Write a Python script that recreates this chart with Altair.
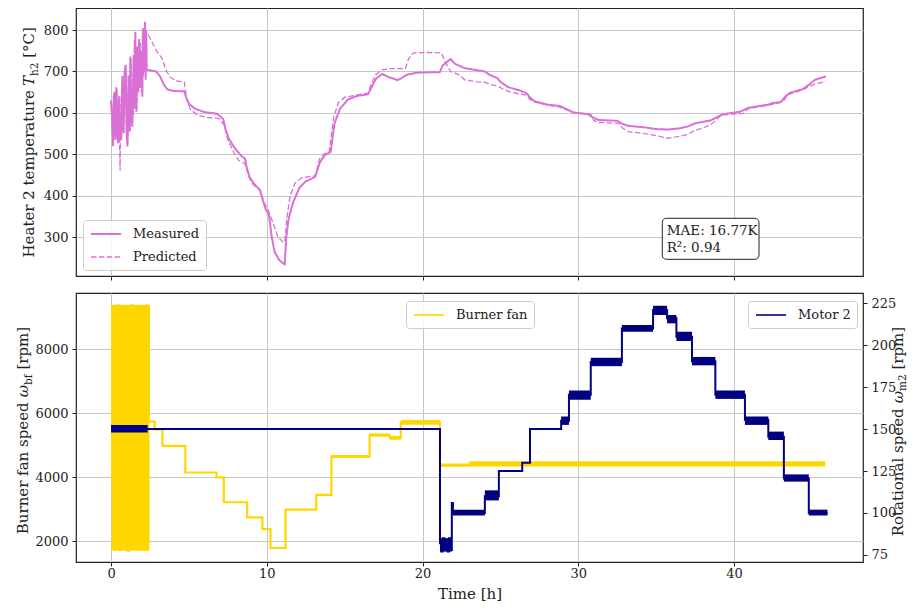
import altair as alt
import pandas as pd

# ---------------- data ----------------
# Heater 2 temperature, measured [°C]
meas_t = [0.0, 0.05, 0.1, 0.13, 0.18, 0.24, 0.28, 0.34, 0.4, 0.45, 0.52, 0.58, 0.66, 0.73, 0.78, 0.81,
          0.88, 0.94, 1.0, 1.05, 1.12, 1.2, 1.24, 1.3, 1.37, 1.45, 1.5, 1.56, 1.6, 1.63, 1.7, 1.75,
          1.8, 1.85, 1.9, 1.95, 2.01, 2.05, 2.1, 2.15, 2.18, 2.22, 2.26, 2.29,
          2.5, 2.9, 3.15, 3.4, 3.6, 4.0, 4.7, 4.8, 5.0, 5.4, 6.0, 6.8, 7.0, 7.2, 7.35, 7.6, 8.0, 8.4,
          8.6, 8.7, 8.9, 9.2, 9.55, 9.7, 9.9, 10.15, 10.3, 10.5, 10.8, 11.1, 11.15, 11.25, 11.4, 11.7,
          12.1, 12.5, 12.9, 13.1, 13.4, 13.7, 14.1, 14.35, 14.7, 15.2, 15.8, 16.5, 16.7, 17.0, 17.4,
          17.8, 18.4, 18.6, 19.0, 19.6, 20.5, 21.1, 21.3, 21.8, 22.1, 22.7, 23.5, 24.0, 24.3, 24.8,
          25.0, 25.5, 26.2, 26.7, 26.9, 27.2, 28.0, 28.8, 29.2, 29.7, 30.6, 31.0, 31.3, 32.5, 32.8,
          33.2, 34.3, 35.0, 35.8, 36.5, 37.0, 37.5, 38.5, 38.9, 39.3, 40.4, 40.9, 41.5, 42.2, 42.5,
          43.0, 43.3, 43.6, 44.4, 44.8, 45.2, 45.9]
meas_v = [630, 600, 560, 520, 640, 651, 535, 662, 560, 527, 640, 545, 535, 689, 580, 551,
          700, 716, 560, 519, 690, 555, 736, 600, 567, 740, 610, 796, 640, 603, 760, 650,
          778, 660, 700, 750, 639, 804, 700, 760, 820, 680, 800, 704,
          703, 700, 688, 668, 657, 653, 652, 640, 622, 610, 602, 598, 592, 585, 560, 535, 512, 495,
          490, 470, 445, 428, 415, 395, 370, 352, 305, 265, 245, 236, 235, 300, 345, 385,
          420, 435, 442, 446, 480, 497, 506, 575, 610, 632, 641, 645, 660, 682, 694,
          687, 679, 683, 692, 697, 698, 698, 715, 730, 718, 708, 703, 700, 692, 684,
          675, 662, 655, 647, 637, 628, 620, 617, 610, 601, 597, 588, 583, 581, 574,
          569, 565, 561, 560, 563, 567, 575, 582, 590, 597, 603, 612, 616, 620, 624,
          626, 640, 649, 657, 668, 680, 688]

# Heater 2 temperature, predicted [°C]
pred_t = [0.0, 0.05, 0.1, 0.15, 0.2, 0.26, 0.32, 0.38, 0.45, 0.52, 0.58, 0.63, 0.7, 0.78, 0.85, 0.92,
          1.0, 1.07, 1.15, 1.22, 1.28, 1.35, 1.42, 1.5, 1.57, 1.65, 1.72, 1.8, 1.87, 1.95, 2.02, 2.08,
          2.15, 2.2, 2.27,
          2.4, 2.7, 3.0, 3.3, 3.5, 3.8, 4.2, 4.7, 4.85, 5.1, 5.6, 6.2, 6.9, 7.1, 7.3, 7.45, 7.8, 8.2,
          8.6, 8.75, 9.0, 9.4, 9.6, 9.8, 10.1, 10.4, 10.7, 11.0, 11.15, 11.3, 11.5, 11.8, 12.2, 12.8,
          13.1, 13.4, 13.7, 14.0, 14.3, 14.6, 15.0, 15.6, 16.5, 16.7, 17.0, 17.4, 18.0, 18.9, 19.1,
          19.4, 20.5, 21.2, 21.5, 21.8, 22.3, 22.7, 23.5, 24.0, 24.4, 24.8, 25.2, 25.6, 26.2, 26.7,
          26.9, 27.2, 28.0, 28.8, 29.2, 29.7, 30.8, 31.0, 31.3, 32.6, 32.8, 33.2, 34.5, 35.0, 35.7,
          36.3, 37.0, 37.4, 38.5, 38.9, 39.2, 40.6, 40.9, 41.5, 42.8, 43.2, 43.5, 44.3, 44.8, 45.2,
          45.9]
pred_v = [628, 590, 545, 530, 630, 645, 540, 655, 540, 600, 461, 620, 675, 560, 690, 710,
          555, 525, 680, 560, 730, 580, 600, 775, 620, 610, 750, 660, 770, 650, 790, 690,
          800, 700, 790,
          788, 765, 745, 730, 705, 686, 677, 675, 635, 608, 594, 589, 587, 578, 570, 540, 510, 485,
          478, 458, 432, 418, 412, 385, 365, 335, 302, 290, 288, 350, 400, 430, 443, 447,
          448, 490, 502, 505, 590, 625, 638, 642, 648, 670, 692, 704, 707, 707, 730,
          745, 746, 745, 720, 700, 693, 680, 675, 674, 668, 665, 657, 651, 646, 643,
          632, 626, 619, 614, 608, 601, 597, 582, 577, 575, 565, 555, 549, 545, 539,
          542, 548, 556, 571, 585, 595, 599, 610, 614, 623, 630, 645, 654, 663, 670,
          676]

# Burner fan speed [rpm] (value holds from each time until the next)
fan_t = [0.0, 0.07, 0.10, 0.14, 0.19, 0.23, 0.28, 0.32, 0.37, 0.41, 0.46, 0.50, 0.55, 0.59, 0.64,
         0.68, 0.73, 0.77, 0.82, 0.86, 0.91, 0.95, 1.00, 1.04, 1.09, 1.13, 1.18, 1.22, 1.27, 1.31,
         1.36, 1.40, 1.45, 1.49, 1.54, 1.58, 1.63, 1.67, 1.72, 1.76, 1.81, 1.85, 1.90, 1.94, 1.99,
         2.03, 2.08, 2.12, 2.17, 2.21, 2.26, 2.30, 2.35, 2.40,
         2.43, 2.80, 3.30, 4.77, 6.77, 7.24, 8.74, 9.72, 10.24, 11.20, 13.18, 14.15, 16.60, 17.90,
         18.60, 21.12, 23.0, 45.85]
fan_v = [3900, 9350, 1760, 9340, 1740, 9360, 1790, 9330, 1750, 9370, 1770, 9340, 1730, 9360, 1780,
         9350, 1750, 9330, 1760, 9360, 1740, 9350, 1770, 9340, 1700, 9360, 1760, 9350, 1740, 9370,
         1780, 9340, 1750, 9360, 1770, 9330, 1740, 9350, 1760, 9360, 1730, 9340, 1770, 9350, 1750,
         9360, 1740, 9340, 1760, 9350, 1730, 9370, 1750, 9340,
         5750, 5500, 4980, 4150, 4000, 3220, 2750, 2380, 1790, 2990, 3450, 4650, 5320, 5230,
         5700, 4380, 4420, 4420]
# noise envelope of the burner fan signal
fanband_t0 = [14.15, 16.60, 17.90, 18.60, 21.12, 23.0]
fanband_t1 = [16.60, 17.90, 18.60, 21.12, 23.0, 45.85]
fanband_lo = [4600, 5270, 5170, 5640, 4330, 4340]
fanband_hi = [4700, 5370, 5290, 5790, 4430, 4500]

# Motor 2 rotational speed [rpm] (value holds from each time until the next)
mot_t = [0.0, 21.12, 21.2, 21.3, 21.4, 21.5, 21.6, 21.7, 21.8, 21.88, 21.95, 24.0, 24.9, 26.4, 26.9,
         28.9, 29.4, 30.8, 32.8, 34.8, 35.7, 36.3, 37.3, 38.8, 40.7, 42.2, 43.2, 44.8, 46.0]
mot_v = [150, 82, 77, 85, 78, 84, 77, 85, 78, 106, 100, 110, 125, 130, 150,
         155, 170.5, 190, 210, 221, 216, 205, 190.5, 170.5, 155.5, 145.5, 120.5, 100, 100]
# noise envelope of the motor signal
motband_t0 = [0.0, 21.12, 21.95, 24.0, 28.9, 29.4, 30.8, 32.8, 34.8, 35.7, 36.3, 37.3, 38.8, 40.7, 42.2, 43.2, 44.8]
motband_t1 = [2.35, 21.88, 24.0, 24.9, 29.4, 30.8, 32.8, 34.8, 35.7, 36.3, 37.3, 38.8, 40.7, 42.2, 43.2, 44.8, 46.0]
motband_lo = [148, 77, 98.5, 107.5, 152.5, 167.5, 187.5, 208, 218, 213, 202.5, 188, 168, 152.5, 143.5, 118.7, 98.5]
motband_hi = [152.5, 85, 102, 113.5, 157.5, 173, 192.5, 212, 223.5, 218, 208, 193, 173, 157.5, 148.5, 123, 102]

x_ticks = [0, 10, 20, 30, 40]
temp_ticks = [300, 400, 500, 600, 700, 800]
fan_ticks = [2000, 4000, 6000, 8000]
mot_ticks = [75, 100, 125, 150, 175, 200, 225]
mae_text = ["MAE: 16.77K", "R²: 0.94"]

# ---------------- styling ----------------
FONT = "DejaVu Serif"
INK = "#222222"
ORCHID = "#DA70D6"
GOLD = "#FFD700"
NAVY = "#000080"
LEG_PATH = "M-0.857,0L3.43,0"

X_SCALE = alt.Scale(domain=[-2.25, 48.28], nice=False, zero=False)
T_SCALE = alt.Scale(domain=[206.7, 853.1], nice=False, zero=False)
F_SCALE = alt.Scale(domain=[1353, 9759], nice=False, zero=False)
M_SCALE = alt.Scale(domain=[70.8, 231.1], nice=False, zero=False)

top_x_axis = alt.Axis(values=x_ticks, labels=False, title=None, grid=True)
bot_x_axis = alt.Axis(values=x_ticks, title="Time [h]", grid=True, labelPadding=1, titlePadding=6)
temp_axis = alt.Axis(values=temp_ticks, title=None, grid=True, format="d")
fan_axis = alt.Axis(values=fan_ticks, title=None, grid=True, format="d")
mot_axis = alt.Axis(values=mot_ticks, title=None, grid=False, orient="right", format="d")

ONE = pd.DataFrame({"k": [0]})


def leg(x, y):
    return alt.Legend(orient="none", legendX=x, legendY=y, title=None, symbolType=LEG_PATH,
                      symbolSize=196, symbolStrokeWidth=1.6, labelOffset=28, rowPadding=8,
                      padding=6, fillColor="rgba(255,255,255,0.85)", strokeColor="#cccccc",
                      cornerRadius=3, labelFont=FONT, labelFontSize=13, labelColor=INK)


def txt(text, x, y, align, dx=0, dy=0, size=15, style="normal"):
    return alt.Chart(ONE).mark_text(
        text=text, align=align, baseline="alphabetic", angle=270, dx=dx, dy=dy,
        font=FONT, fontSize=size, fontStyle=style, color=INK
    ).encode(x=alt.value(x), y=alt.value(y))


# ---------------- top panel ----------------
top_df = pd.DataFrame({
    "t": meas_t + pred_t,
    "v": meas_v + pred_v,
    "s": ["Measured"] * len(meas_t) + ["Predicted"] * len(pred_t),
    "i": list(range(len(meas_t))) + list(range(len(pred_t))),
})
top_leg = leg(7, 212)
top_lines = alt.Chart(top_df).mark_line().encode(
    x=alt.X("t:Q", scale=X_SCALE, axis=top_x_axis),
    y=alt.Y("v:Q", scale=T_SCALE, axis=temp_axis),
    color=alt.Color("s:N", scale=alt.Scale(domain=["Measured", "Predicted"], range=[ORCHID, ORCHID]),
                    legend=top_leg),
    strokeDash=alt.StrokeDash("s:N", scale=alt.Scale(domain=["Measured", "Predicted"],
                                                     range=[[1, 0], [5.5, 2.4]]), legend=top_leg),
    strokeWidth=alt.StrokeWidth("s:N", scale=alt.Scale(domain=["Measured", "Predicted"], range=[2.0, 1.3]),
                                legend=None),
    order=alt.Order("i:Q"),
)
mae_box = alt.Chart(ONE).mark_rect(fill="white", stroke=INK, strokeWidth=1, cornerRadius=4).encode(
    x=alt.value(586.3), x2=alt.value(683), y=alt.value(210.3), y2=alt.value(251.3))
mae_txt = alt.Chart(ONE).mark_text(text=mae_text, align="left", baseline="alphabetic", lineHeight=16.5,
                                   font=FONT, fontSize=13.5, color=INK).encode(
    x=alt.value(590.7), y=alt.value(227))
top_titles = [
    txt("Heater 2 temperature", -42, 68, "right", dx=-14),
    txt("T", -42, 68, "right", style="italic"),
    txt("h2", -42, 68, "left", dy=3.5, size=10.5),
    txt("[°C]", -42, 68, "left", dx=18.2),
]
top = alt.layer(top_lines, mae_box, mae_txt, *top_titles).properties(width=787, height=268)

# ---------------- bottom panel ----------------
fan_df = pd.DataFrame({"t": fan_t, "v": fan_v, "name": "Burner fan", "i": range(len(fan_t))})
fanband_df = pd.DataFrame({"t0": fanband_t0, "t1": fanband_t1, "lo": fanband_lo, "hi": fanband_hi})
mot_df = pd.DataFrame({"t": mot_t, "v": mot_v, "name": "Motor 2", "i": range(len(mot_t))})
motband_df = pd.DataFrame({"t0": motband_t0, "t1": motband_t1, "lo": motband_lo, "hi": motband_hi})

fan_band = alt.Chart(fanband_df).mark_rect(color=GOLD).encode(
    x=alt.X("t0:Q", scale=X_SCALE, axis=bot_x_axis), x2="t1:Q",
    y=alt.Y("lo:Q", scale=F_SCALE, axis=fan_axis), y2="hi:Q")
fan_line = alt.Chart(fan_df).mark_line(interpolate="step-after", strokeWidth=2.2).encode(
    x=alt.X("t:Q", scale=X_SCALE, axis=bot_x_axis),
    y=alt.Y("v:Q", scale=F_SCALE, axis=fan_axis),
    color=alt.Color("name:N", scale=alt.Scale(domain=["Burner fan"], range=[GOLD]), legend=leg(330, 8)),
    order=alt.Order("i:Q"))
mot_band = alt.Chart(motband_df).mark_rect(color=NAVY).encode(
    x=alt.X("t0:Q", scale=X_SCALE, axis=bot_x_axis), x2="t1:Q",
    y=alt.Y("lo:Q", scale=M_SCALE, axis=mot_axis), y2="hi:Q")
mot_line = alt.Chart(mot_df).mark_line(interpolate="step-after", strokeWidth=2.0).encode(
    x=alt.X("t:Q", scale=X_SCALE, axis=bot_x_axis),
    y=alt.Y("v:Q", scale=M_SCALE, axis=mot_axis),
    stroke=alt.Stroke("name:N", scale=alt.Scale(domain=["Motor 2"], range=[NAVY]), legend=leg(672, 8)),
    order=alt.Order("i:Q"))

bot_titles = [
    txt("Burner fan speed", -48, 92, "right", dx=-17.3),
    txt("ω", -48, 92, "right", style="italic"),
    txt("bf", -48, 92, "left", dy=3.5, size=10.5),
    txt("[rpm]", -48, 92, "left", dx=15.4),
    txt("Rotational speed", 826.5, 98, "right", dx=-17.3),
    txt("ω", 826.5, 98, "right", style="italic"),
    txt("m2", 826.5, 98, "left", dy=3.5, size=10.5),
    txt("[rpm]", 826.5, 98, "left", dx=21.4),
]

bottom = alt.layer(
    alt.layer(fan_band, fan_line),
    alt.layer(mot_band, mot_line),
).resolve_scale(y="independent")
bottom = alt.layer(bottom, *bot_titles).properties(width=787, height=269)

chart = alt.vconcat(top, bottom, spacing=17, bounds="flush").resolve_scale(
    color="independent", strokeDash="independent", strokeWidth="independent", stroke="independent"
).properties(
    autosize=alt.AutoSizeParams(type="none"),
    padding={"left": 68, "top": 0, "right": 44, "bottom": 594},
    background="white",
).configure_view(
    stroke=INK, strokeWidth=1.2
).configure_axis(
    labelFont=FONT, labelFontSize=13, labelColor=INK, tickColor=INK, tickWidth=1, tickSize=4,
    labelPadding=4, gridColor="#c6c6c6", gridWidth=1, domain=False,
    titleFont=FONT, titleFontSize=15, titleColor=INK, titleFontWeight="normal"
)

chart.save("out.html", embed_options={"renderer": "svg", "actions": False})
